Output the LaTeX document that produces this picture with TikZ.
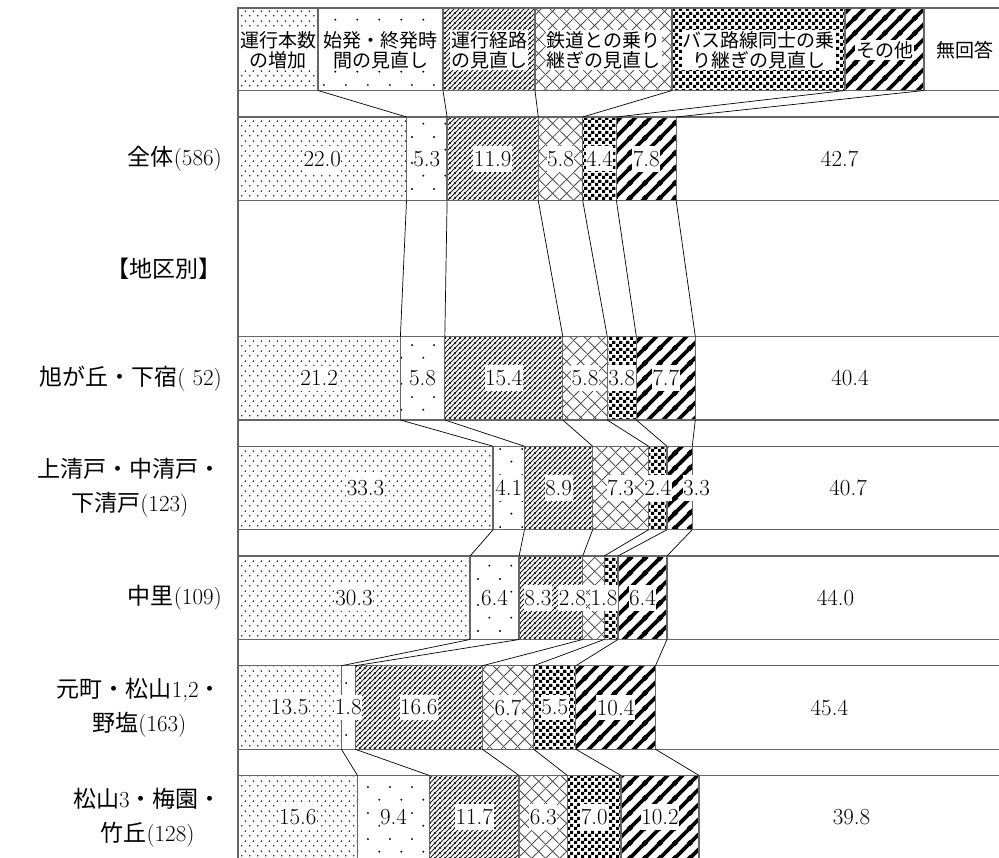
\documentclass[tikz,border=0pt]{standalone}
\usepackage{fontspec}
\usetikzlibrary{patterns}
\newfontfamily\jp{Noto Sans CJK JP}

% fill patterns, one per answer
\pgfdeclarepatternformonly{p1}{\pgfqpoint{0pt}{0pt}}{\pgfqpoint{8pt}{10pt}}{\pgfqpoint{8pt}{10pt}}{%
	\pgfpathcircle{\pgfqpoint{2pt}{2.5pt}}{1pt}
	\pgfpathcircle{\pgfqpoint{6pt}{7.5pt}}{1pt}
	\pgfusepath{fill}}
\pgfdeclarepatternformonly{p2}{\pgfqpoint{0pt}{0pt}}{\pgfqpoint{22pt}{26pt}}{\pgfqpoint{22pt}{26pt}}{%
	\pgfpathcircle{\pgfqpoint{5.5pt}{6.5pt}}{1.1pt}
	\pgfpathcircle{\pgfqpoint{16.5pt}{19.5pt}}{1.1pt}
	\pgfusepath{fill}}
\pgfdeclarepatternformonly{p3}{\pgfqpoint{0pt}{0pt}}{\pgfqpoint{5pt}{5pt}}{\pgfqpoint{5pt}{5pt}}{%
	\pgfsetlinewidth{0.9pt}
	\pgfpathmoveto{\pgfqpoint{-1pt}{-1pt}}\pgfpathlineto{\pgfqpoint{6pt}{6pt}}
	\pgfpathmoveto{\pgfqpoint{-1pt}{4pt}}\pgfpathlineto{\pgfqpoint{1pt}{6pt}}
	\pgfpathmoveto{\pgfqpoint{4pt}{-1pt}}\pgfpathlineto{\pgfqpoint{6pt}{1pt}}
	\pgfusepath{stroke}}
\pgfdeclarepatternformonly{p4}{\pgfqpoint{0pt}{0pt}}{\pgfqpoint{14pt}{14pt}}{\pgfqpoint{14pt}{14pt}}{%
	\pgfsetlinewidth{0.8pt}
	\pgfpathmoveto{\pgfqpoint{-1pt}{-1pt}}\pgfpathlineto{\pgfqpoint{15pt}{15pt}}
	\pgfpathmoveto{\pgfqpoint{-1pt}{15pt}}\pgfpathlineto{\pgfqpoint{15pt}{-1pt}}
	\pgfusepath{stroke}}
\pgfdeclarepatternformonly{p5}{\pgfqpoint{0pt}{0pt}}{\pgfqpoint{7pt}{7pt}}{\pgfqpoint{7pt}{7pt}}{%
	\pgfpathrectangle{\pgfqpoint{0pt}{0pt}}{\pgfqpoint{3.5pt}{3.5pt}}
	\pgfpathrectangle{\pgfqpoint{3.5pt}{3.5pt}}{\pgfqpoint{3.5pt}{3.5pt}}
	\pgfusepath{fill}}
\pgfdeclarepatternformonly{p6}{\pgfqpoint{0pt}{0pt}}{\pgfqpoint{15pt}{15pt}}{\pgfqpoint{15pt}{15pt}}{%
	\pgfsetlinewidth{4pt}
	\pgfpathmoveto{\pgfqpoint{-2pt}{-2pt}}\pgfpathlineto{\pgfqpoint{17pt}{17pt}}
	\pgfpathmoveto{\pgfqpoint{-2pt}{13pt}}\pgfpathlineto{\pgfqpoint{2pt}{17pt}}
	\pgfpathmoveto{\pgfqpoint{13pt}{-2pt}}\pgfpathlineto{\pgfqpoint{17pt}{2pt}}
	\pgfusepath{stroke}}
\colorlet{pc1}{black!85}
\colorlet{pc2}{black}
\colorlet{pc3}{black!90}
\colorlet{pc4}{black!70}
\colorlet{pc5}{black}
\colorlet{pc6}{black}

% one bar: name, top, list of value/label shift
\newcommand{\databar}[3]{%
	\gdef\cum{0}
	\foreach \v/\dx [count=\i] in {#3}{
		\pgfmathsetmacro\lo{238+7.66*\cum}
		\pgfmathsetmacro\hi{238+7.66*(\cum+\v)}
		\ifnum\i<7
		\draw[frame, pattern=p\i, pattern color=pc\i] (\lo,#2) rectangle (\hi,#2+83.5);
		\else
		\draw[frame] (\lo,#2) rectangle (\hi,#2+83.5);
		\fi
		\coordinate (#1-t\i) at (\hi,#2);
		\coordinate (#1-b\i) at (\hi,#2+83.5);
		\pgfmathsetmacro\tmp{\cum+\v}
		\xdef\cum{\tmp}
	}
	\gdef\cum{0}
	\foreach \v/\dx [count=\i] in {#3}{
		\pgfmathsetmacro\mid{238+7.66*(\cum+\v/2)+\dx}
		\node[val] (#1-v\i) at (\mid,#2+41.75) {\v};
		\pgfmathsetmacro\tmp{\cum+\v}
		\xdef\cum{\tmp}
	}
}

\begin{document}
\begin{tikzpicture}[
		x=1pt, y=-1pt,
		frame/.style={draw=black!60, line width=1.3pt},
		link/.style={draw=black, line width=0.7pt},
		val/.style={fill=white, inner xsep=0.5pt, inner ysep=5pt, font=\fontsize{23}{26}\selectfont},
		key/.style={fill=white, inner sep=1pt, align=center, font=\fontsize{19}{20}\selectfont\jp},
		grp/.style={anchor=east, align=center, inner sep=0pt, font=\fontsize{23}{34}\selectfont}
		]
		\useasboundingbox (0,0) rectangle (999,858);
		
		% legend row
		\foreach \l/\r [count=\i] in {238/318, 318/443, 443/535, 535/672, 672/845, 845/924}{
			\draw[frame, pattern=p\i, pattern color=pc\i] (\l,8) rectangle (\r,90.5);
			\coordinate (lg-b\i) at (\r,90.5);
		}
		\draw[frame] (924,8) rectangle (1005,90.5);
		\node[key] (lg-k1) at (278,50) {運行本数\\の増加};
		\node[key] (lg-k2) at (380.5,50) {始発・終発時\\間の見直し};
		\node[key] (lg-k3) at (489,50) {運行経路\\の見直し};
		\node[key] (lg-k4) at (603.5,50) {鉄道との乗り\\継ぎの見直し};
		\node[key] (lg-k5) at (758.5,50) {バス路線同士の乗\\り継ぎの見直し};
		\node[key] (lg-k6) at (884.5,50) {その他};
		\node[key] (lg-k7) at (964.5,50) {無回答};
		
		% bars
		\databar{all}{117}{22.0/0, 5.3/0, 11.9/0, 5.8/0, 4.4/0, 7.8/0, 42.7/0}
		\databar{asa}{336.5}{21.2/0, 5.8/0, 15.4/0, 5.8/0, 3.8/0, 7.7/0, 40.4/0}
		\databar{kiyo}{446.25}{33.3/0, 4.1/0, 8.9/0, 7.3/0, 2.4/0, 3.3/17, 40.7/0}
		\databar{naka}{556}{30.3/0, 6.4/0, 8.3/-13, 2.8/-21, 1.8/-7, 6.4/0, 44.0/0}
		\databar{moto}{665.75}{13.5/0, 1.8/0, 16.6/0, 6.7/0, 5.5/0, 10.4/0, 45.4/0}
		\databar{matsu}{775.5}{15.6/0, 9.4/0, 11.7/0, 6.3/0, 7.0/0, 10.2/0, 39.8/0}
		\draw[frame] (238,8) -- (238,860);
		
		% links between bars
		\foreach \i in {1,...,6}{
			\draw[link] (lg-b\i) -- (all-t\i);
			\draw[link] (all-b\i) -- (asa-t\i);
			\draw[link] (asa-b\i) -- (kiyo-t\i);
			\draw[link] (kiyo-b\i) -- (naka-t\i);
			\draw[link] (naka-b\i) -- (moto-t\i);
			\draw[link] (moto-b\i) -- (matsu-t\i);
		}
		
		% row labels
		\node[grp] (all-l) at (222,158.75) {{\jp 全体}(586)};
		\node[grp] (hdr) at (222,268.5) {\jp 【地区別】};
		\node[grp] (asa-l) at (222,378.25) {{\jp 旭が丘・下宿}( 52)};
		\node[grp] (kiyo-l) at (222,488) {{\jp 上清戸・中清戸・}\\{\jp 下清戸}(123)};
		\node[grp] (naka-l) at (222,597.75) {{\jp 中里}(109)};
		\node[grp] (moto-l) at (222,707.5) {{\jp 元町・松山}1,2{\jp ・}\\{\jp 野塩}(163)};
		\node[grp] (matsu-l) at (222,817.25) {{\jp 松山}3{\jp ・梅園・}\\{\jp 竹丘}(128)};
\end{tikzpicture}
\end{document}
